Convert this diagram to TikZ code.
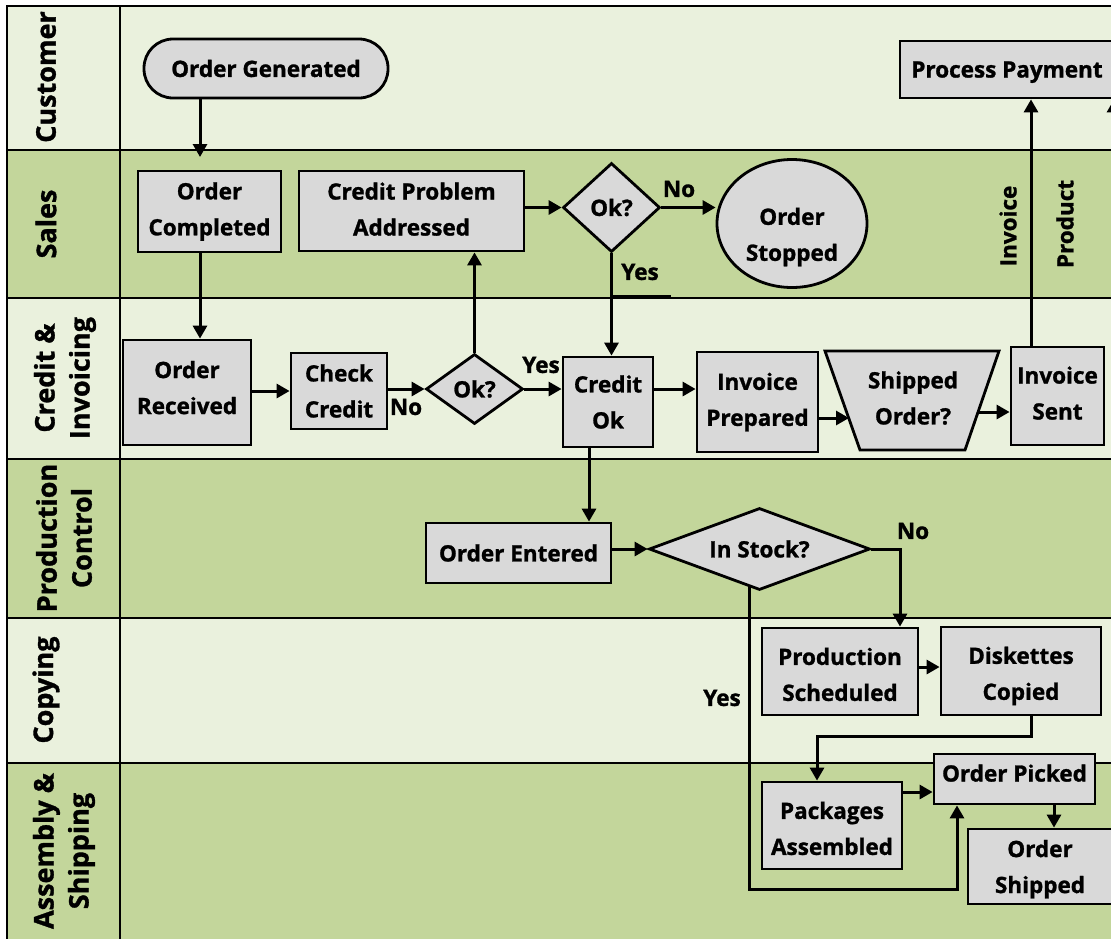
\documentclass[tikz,border=0pt]{standalone}
\usepackage{fontspec}
\setmainfont{Open Sans}[BoldFeatures={FakeBold=1.2}]
\usetikzlibrary{arrows.meta,shapes.geometric}
\definecolor{lanelight}{HTML}{EAF1DD}
\definecolor{lanedark}{HTML}{C3D69B}
\definecolor{boxgray}{HTML}{D9D9D9}
\begin{document}
\begin{tikzpicture}[x=1pt,y=-1pt,
  every node/.style={inner sep=0pt, align=center,
                     font=\fontsize{22.5}{36}\selectfont\bfseries},
  box/.style={draw, fill=boxgray, line width=2.8pt, rectangle},
  decision/.style={draw, fill=boxgray, line width=2.8pt, diamond},
  arr/.style={line width=3pt, -{Triangle[length=13pt,width=14pt]}},
  lanelabel/.style={rotate=90, font=\fontsize{27}{35}\selectfont\bfseries},
  tag/.style={font=\fontsize{22.5}{27}\selectfont\bfseries},
  rule/.style={line width=2.7pt}
]
\useasboundingbox (0,0) rectangle (1111,938);
\clip (0,0) rectangle (1111,938);
\fill[white] (0,0) rectangle (1111,938);

% swimlanes
\fill[lanelight] (7,6)   rectangle (1120,150);
\fill[lanedark]  (7,150) rectangle (1120,298);
\fill[lanelight] (7,298) rectangle (1120,459);
\fill[lanedark]  (7,459) rectangle (1120,618);
\fill[lanelight] (7,618) rectangle (1120,763);
\fill[lanedark]  (7,763) rectangle (1120,950);
\draw[rule] (7,950) -- (7,6) -- (1120,6);
\draw[rule] (120,6) -- (120,950);
\foreach \y in {150,298,459,618,763} \draw[rule] (7,\y) -- (1120,\y);
\draw[line width=1.2pt] (611,296) -- (671,296);

% lane titles
\node[lanelabel] (lcust) at (46,77)  {Customer};
\node[lanelabel] (lsale) at (46,224) {Sales};
\node[lanelabel] (lcred) at (65,378) {Credit \&\\Invoicing};
\node[lanelabel] (lprod) at (64,538) {Production\\Control};
\node[lanelabel] (lcopy) at (46,690) {Copying};
\node[lanelabel] (lasm)  at (64,851) {Assembly \&\\Shipping};

% process steps
\node[box, rounded corners=29pt, minimum width=244pt, minimum height=59pt] (gen) at (266,68.5) {Order Generated};
\node[box, minimum width=214pt, minimum height=57pt, text depth=0pt] (pay) at (1007,69.5) {Process Payment};
\node[box, minimum width=143pt, minimum height=81pt] (comp) at (209.5,211.5) {Order\\Completed};
\node[box, minimum width=225pt, minimum height=80pt, text depth=4pt] (cpa) at (411.5,211) {Credit Problem\\Addressed};
\node[decision, aspect=1.4, minimum width=97pt, minimum height=89pt] (ok1) at (611.5,207.5) {Ok?};
\node[draw, ellipse, fill=boxgray, line width=2.8pt, minimum width=150pt, minimum height=128pt] (stop) at (792,223.5) {};
\node (stoptext) at (792,237) {Order\\Stopped};
\node[box, minimum width=128pt, minimum height=105pt, text depth=10pt] (rec) at (187,392.5) {Order\\Received};
\node[box, minimum width=96pt, minimum height=76pt] (chk) at (339,391) {Check\\Credit};
\node[decision, aspect=1.4, minimum width=97pt, minimum height=70pt] (ok2) at (474.5,389) {Ok?};
\node[box, minimum width=90pt, minimum height=90pt] (cok) at (608,402) {Credit\\Ok};
\node[box, minimum width=121pt, minimum height=100pt] (inv) at (757.5,402) {Invoice\\Prepared};
\filldraw[fill=boxgray, line width=2.8pt, line join=miter] (825,351) -- (999,351) -- (965,450) -- (860,450) -- cycle;
\node (shp) at (913,398) {Shipped\\Order?};
\coordinate (shpin) at (849,418);
\coordinate (shpout) at (979,412);
\node[box, minimum width=93pt, minimum height=98pt, text depth=6pt] (sent) at (1057.5,396) {Invoice\\Sent};
\node[box, minimum width=185pt, minimum height=60pt] (ent) at (518.5,553) {Order Entered};
\node[decision, aspect=2.7, minimum width=221pt, minimum height=82pt] (stk) at (759.5,549) {In Stock?};
\node[box, minimum width=156pt, minimum height=87pt, text height=59pt] (sch) at (840,671.5) {Production\\Scheduled};
\node[box, minimum width=160pt, minimum height=88pt, text height=57.6pt, text depth=0pt] (cop) at (1021,671) {Diskettes\\Copied};
\node[box, minimum width=140pt, minimum height=87pt, text height=59pt] (pkg) at (832,825.5) {Packages\\Assembled};
\node[box, minimum width=161pt, minimum height=50pt, text depth=12pt] (pick) at (1014.5,779) {Order Picked};
\node[box, minimum width=144pt, minimum height=75pt, text depth=0pt] (ship) at (1040,866.5) {Order\\Shipped};

% bends and free ends
\coordinate (gentip) at (200,157);
\coordinate (yescorner) at (749,889);
\coordinate (copbend) at (817,736);

% flow
\draw[arr] ([xshift=-66pt]gen.south) -- (gentip);
\draw[arr] ([xshift=-9.5pt]comp.south) -- ([xshift=-9.5pt]comp.south |- rec.north);
\draw[arr] (chk.west -| rec.east) -- (chk.west);
\draw[arr] (ok2.west -| chk.east) -- (ok2.west);
\draw[arr] (ok2.north) -- (ok2.north |- cpa.south);
\draw[arr] (ok2.east) -- (ok2.east -| cok.west);
\draw[arr] (ok1.west -| cpa.east) -- (ok1.west);
\draw[arr] (ok1.east) -- (ok1.east -| stop.west);
\draw[arr] (ok1.south) -- (ok1.south |- cok.north);
\draw[arr] ([yshift=13pt]cok.east) -- ([yshift=13pt]cok.east -| inv.west);
\draw[arr] ([yshift=-16pt]inv.east) -- (shpin);
\draw[arr] (shpout) -- (shpout -| sent.west);
\draw[arr] ([xshift=-26.5pt]sent.north) -- ([xshift=-26.5pt]sent.north |- pay.south);
\draw[arr] (ship.east) -| ([xshift=107pt]pay.south);
\draw[arr] ([xshift=-19pt]cok.south) -- ([xshift=-19pt]cok.south |- ent.north);
\draw[arr] (stk.west -| ent.east) -- (stk.west);
\draw[arr] (stk.east) -| ([xshift=60pt]sch.north);
\draw[arr] ([xshift=-10.5pt,yshift=4pt]stk.south) -- (yescorner) -| ([xshift=-57.5pt]pick.south);
\draw[arr] ([yshift=4.5pt]sch.east) -- ([yshift=4.5pt]sch.east -| cop.west);
\draw[arr] ([xshift=10pt]cop.south) |- (copbend) -- ([xshift=-15pt]pkg.north);
\draw[arr] ([yshift=33.5pt]pkg.east) -- ([yshift=33.5pt]pkg.east -| pick.west);
\draw[arr] ([xshift=39.5pt]pick.south) -- ([xshift=39.5pt]pick.south |- ship.north);

% branch labels
\node[tag] (nochk) at (406,407) {No};
\node[tag] (yesok2) at (541,365) {Yes};
\node[tag] (nook1) at (679,189) {No};
\node[tag] (yesok1) at (640,272) {Yes};
\node[tag] (nostk) at (913,531) {No};
\node[tag] (yesstk) at (722,698) {Yes};
\node[tag, rotate=90] (invtag) at (1008,226) {Invoice};
\node[tag, rotate=90] (prodtag) at (1065,224) {Product};
\end{tikzpicture}
\end{document}
